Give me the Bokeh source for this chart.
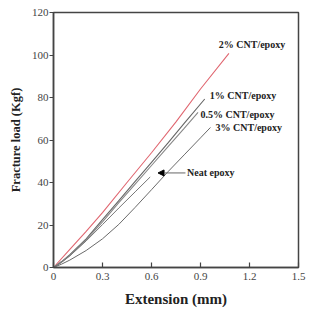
from bokeh.plotting import figure
from bokeh.models import Range1d, FixedTicker, Arrow, NormalHead, ColumnDataSource
from bokeh.core.properties import value
from bokeh.embed import file_html
from bokeh.resources import INLINE

# Load-extension curves (extension in mm, load in kgf)
cnt2_x = [0, 0.1, 0.2, 0.3, 0.45, 0.6, 0.75, 0.9, 1.074]
cnt2_y = [0, 8.5, 17, 25.8, 40, 54, 68.5, 84, 100.8]

cnt1_x = [0, 0.05, 0.1, 0.2, 0.3, 0.4, 0.5, 0.6, 0.7, 0.8, 0.926]
cnt1_y = [0, 2.8, 6, 13.5, 22.5, 31.5, 40.5, 49.5, 58.5, 67.8, 79.3]

cnt05_x = [0, 0.05, 0.1, 0.2, 0.3, 0.4, 0.5, 0.6, 0.7, 0.8, 0.885]
cnt05_y = [0, 2.6, 5.6, 13, 21.5, 30.5, 39.2, 48, 56.8, 65.5, 73]

neat_x = [0, 0.05, 0.1, 0.2, 0.3, 0.4, 0.5, 0.592]
neat_y = [0, 2.5, 5.5, 12.5, 20.2, 28, 35.6, 42.6]

cnt3_x = [0, 0.05, 0.1, 0.2, 0.3, 0.4, 0.5, 0.6, 0.7, 0.8, 0.9, 0.961]
cnt3_y = [0, 1.6, 3.5, 8.0, 13.5, 20.3, 28.3, 36.6, 45, 53, 61, 65.9]

# Curve labels and their anchor points
label_text = ["2% CNT/epoxy", "1% CNT/epoxy", "0.5% CNT/epoxy", "3% CNT/epoxy", "Neat epoxy"]
label_x = [1.012, 0.957, 0.90, 0.992, 0.818]
label_y = [105, 80.9, 71.9, 65.9, 44.5]

x_ticks = [0, 0.3, 0.6, 0.9, 1.2, 1.5]
x_tick_labels = ["0", "0.3", "0.6", "0.9", "1.2", "1.5"]
y_ticks = [0, 20, 40, 60, 80, 100, 120]

SERIF = "Liberation Serif"
AXIS_COLOR = "#444444"

p = figure(width=314, height=309, output_backend="svg", toolbar_location=None,
           x_range=Range1d(0, 1.5), y_range=Range1d(0, 120),
           min_border_left=53, min_border_right=16, min_border_top=12,
           min_border_bottom=41)

p.background_fill_color = "white"
p.border_fill_color = "white"
p.outline_line_color = AXIS_COLOR
p.outline_line_width = 1.5
p.xgrid.visible = False
p.ygrid.visible = False

p.line(cnt2_x, cnt2_y, line_color="#e06670", line_width=1.1)
p.line(cnt1_x, cnt1_y, line_color="#666666", line_width=1.1)
p.line(cnt05_x, cnt05_y, line_color="#888888", line_width=1.1)
p.line(neat_x, neat_y, line_color="#777777", line_width=1.0)
p.line(cnt3_x, cnt3_y, line_color="#6a6a6a", line_width=1.0)

src = ColumnDataSource(dict(x=label_x, y=label_y, t=label_text))
p.text(x="x", y="y", text="t", source=src, text_font=value(SERIF),
       text_font_style="bold", text_font_size="10px", text_color="#222222",
       text_align="left", text_baseline="middle")

p.add_layout(Arrow(end=NormalHead(size=6, fill_color="black", line_color="black"),
                   x_start=0.808, y_start=44.5, x_end=0.64, y_end=44.5,
                   line_color="#666666", line_width=1))

# Axes
p.xaxis.ticker = FixedTicker(ticks=x_ticks)
p.xaxis.major_label_overrides = dict(zip(x_ticks, x_tick_labels))
p.yaxis.ticker = FixedTicker(ticks=y_ticks)

for ax in (p.xaxis, p.yaxis):
    ax.axis_line_color = AXIS_COLOR
    ax.axis_line_width = 1.5
    ax.major_tick_line_color = AXIS_COLOR
    ax.major_tick_line_width = 1.2
    ax.minor_tick_line_color = None
    ax.major_label_text_font = SERIF
    ax.major_label_text_font_size = "11px"
    ax.major_label_text_color = "#444444"
    ax.axis_label_text_font = SERIF
    ax.axis_label_text_font_style = "bold"
    ax.axis_label_text_color = "#222222"

p.xaxis.major_tick_in = 5
p.xaxis.major_tick_out = 0
p.xaxis.major_label_standoff = 5
p.xaxis.axis_label = "Extension (mm)"
p.xaxis.axis_label_text_font_size = "15px"
p.xaxis.axis_label_standoff = 8

p.yaxis.major_tick_in = 0
p.yaxis.major_tick_out = 4
p.yaxis.major_label_standoff = 1
p.yaxis.axis_label = "Fracture load (Kgf)"
p.yaxis.axis_label_text_font_size = "12.5px"
p.yaxis.axis_label_standoff = 6

open("out.html", "w").write(file_html(p, INLINE))
